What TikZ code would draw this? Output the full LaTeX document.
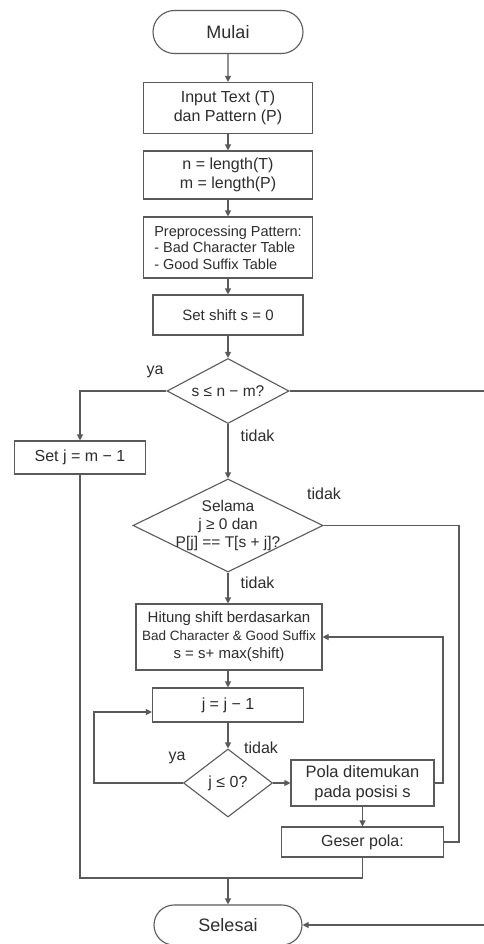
\documentclass[tikz,border=0pt]{standalone}
\usepackage{fontspec}
\setmainfont{Liberation Sans}
\usetikzlibrary{shapes.geometric,shapes.misc,arrows.meta,calc}
\definecolor{fgrey}{RGB}{90,90,90}
\definecolor{tgrey}{RGB}{45,45,45}
\tikzset{
  garis/.style={draw=fgrey,line width=1.1pt},
  kotak/.style={garis,rectangle,text=tgrey,align=center,inner sep=0pt,font=\fontsize{16}{19}\selectfont},
  ujung/.style={kotak,rounded rectangle,font=\fontsize{18}{21}\selectfont},
  pilih/.style={garis,diamond,inner sep=0pt},
  isi/.style={text=tgrey,align=center,inner sep=0pt,font=\fontsize{15.5}{18}\selectfont},
  ket/.style={text=tgrey,inner sep=0pt,font=\fontsize{16}{19}\selectfont},
  panah/.style={fgrey,line width=1.1pt,-{Triangle[length=6pt,width=6pt]}},
  hubung/.style={fgrey,line width=1.1pt},
}
\newcommand{\kecil}[1]{{\fontsize{#1}{18}\selectfont}}

\begin{document}
\begin{tikzpicture}[x=1pt,y=-1pt]
    \pgfmathsetmacro{\kol}{228};
    \useasboundingbox (0,0) rectangle (483,944);
    \fill[white] (0,0) rectangle (483,944);
    % kolom utama
    \node[ujung,minimum width=150,minimum height=43] (mulai) at (\kol,32) {Mulai};
    \node[kotak,minimum width=169,minimum height=51] (input) at (\kol,108) {Input Text (T)\\dan Pattern (P)};
    \node[kotak,minimum width=169,minimum height=48] (len) at (\kol,175) {n = length(T)\\m = length(P)};
    \node[kotak,minimum width=169,minimum height=61,align=left,font=\fontsize{14.5}{16.5}\selectfont] (prep) at (\kol,247.5)
      {Preprocessing Pattern:\\- Bad Character Table\\- Good Suffix Table};
    \node[kotak,minimum width=150,minimum height=40,font=\fontsize{15}{18}\selectfont] (shift) at (\kol,315) {Set shift s = 0};
    \node[pilih,minimum width=122,minimum height=65,label={[isi]center:s ≤ n − m?}] (cek) at (\kol,391) {};
    \node[kotak,minimum width=131,minimum height=33] (setj) at (80,457.5) {Set j = m − 1};
    \node[pilih,minimum width=190,minimum height=93,
      label={[isi]center:{Selama\\j ≥ 0 dan\\P[j] == T[s + j]?}}] (selama) at (\kol,525.5) {};
    \node[kotak,minimum width=186,minimum height=66,font=\fontsize{15}{18}\selectfont] (hitung) at (\kol+1,637)
      {Hitung shift berdasarkan\\{\fontsize{13.5}{18}\selectfont Bad Character \& Good Suffix}\\s = s+ max(shift)};
    \node[kotak,minimum width=151,minimum height=34] (jdec) at (\kol,705) {j = j − 1};
    \node[pilih,minimum width=89,minimum height=68,label={[isi,font=\fontsize{16}{19}\selectfont]center:j ≤ 0?}] (cekj) at (\kol,783) {};
    \node[kotak,minimum width=143,minimum height=46,font=\fontsize{16.5}{20}\selectfont] (pola) at (362.5,783) {Pola ditemukan\\pada posisi s};
    \node[kotak,minimum width=162,minimum height=30] (geser) at (362.5,842) {Geser pola:};
    \node[ujung,minimum width=148,minimum height=40] (selesai) at (\kol,925) {Selesai};
    % titik belok
    \coordinate (tepi) at (492,925);
    \coordinate (sisi) at (459,842);
    \coordinate (balik) at (443,637);
    \coordinate (kiri) at (94,712);
    \coordinate (gabung) at (80,878);
    % label cabang
    \node[ket] (ya1) at (155,372) {ya};
    \node[ket] (td1) at (257.5,436) {tidak};
    \node[ket] (td2) at (324,494) {tidak};
    \node[ket] (td3) at (257.5,583) {tidak};
    \node[ket] (td4) at (261,748) {tidak};
    \node[ket] (ya2) at (177,758) {ya};
    % alur
    \draw[panah] (mulai) -- (input);
    \draw[panah] (input) -- (len);
    \draw[panah] (len) -- (prep);
    \draw[panah] (prep) -- (shift);
    \draw[panah] (shift) -- (cek);
    \draw[panah] (cek.west) -| (setj.north);
    \draw[panah] (cek.east) -| (tepi) |- (selesai.east);
    \draw[panah] (cek) -- (selama);
    \draw[hubung] (selama.east) -| (sisi) |- (geser.east);
    \draw[panah] (selama) -- (selama |- hitung.north);
    \draw[panah] (hitung.south -| jdec) -- (jdec);
    \draw[panah] (jdec) -- (cekj);
    \draw[panah] (cekj.west) -| (kiri) -- (kiri -| jdec.west);
    \draw[panah] (cekj) -- (pola);
    \draw[panah] (pola.east) -| (balik) |- (hitung.east);
    \draw[panah] (pola) -- (geser);
    \draw[hubung] (geser.south) |- (gabung) -- (setj.south);
    \draw[panah] (selesai |- gabung) -- (selesai);
\end{tikzpicture}
\end{document}
